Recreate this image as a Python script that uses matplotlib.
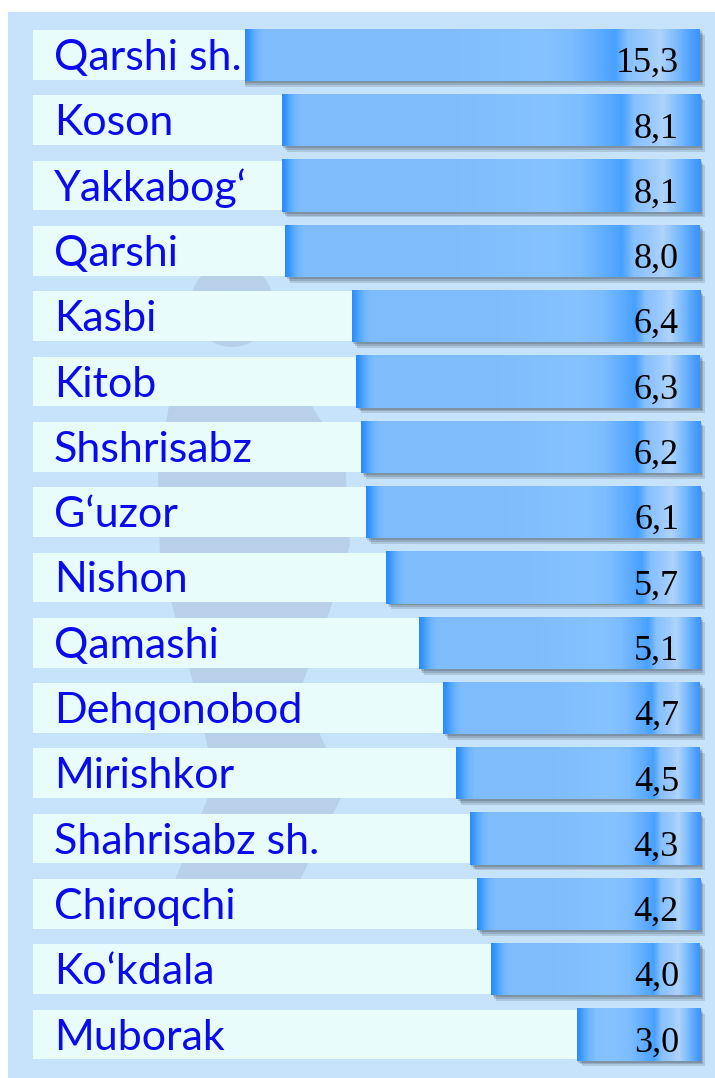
import numpy as np
import matplotlib
matplotlib.use("Agg")
import matplotlib.pyplot as plt
from matplotlib.patches import Rectangle, Circle, Polygon
from matplotlib import patheffects as pe
from matplotlib.colors import to_rgb

# ---------------- data ----------------
districts = ["Qarshi sh.", "Koson", "Yakkabog‘", "Qarshi", "Kasbi", "Kitob",
             "Shshrisabz", "G‘uzor", "Nishon", "Qamashi", "Dehqonobod",
             "Mirishkor", "Shahrisabz sh.", "Chiroqchi", "Ko‘kdala", "Muborak"]
values = [15.3, 8.1, 8.1, 8.0, 6.4, 6.3, 6.2, 6.1, 5.7, 5.1, 4.7, 4.5, 4.3, 4.2, 4.0, 3.0]
value_labels = [f"{v:.1f}".replace(".", ",") for v in values]

# ---------------- layout ----------------
W, H, DPI = 715, 1078, 100
ROW0, PITCH = 55.0, 65.3
n = len(values)
rows = np.arange(n)
ylim = ((H - ROW0) / PITCH, (0 - ROW0) / PITCH)

BAR_L, BAR_R, AX_R = 245, 700, 715
BASE = 1.98
PX_PER_LN = 297.0

fig = plt.figure(figsize=(W / DPI, H / DPI), dpi=DPI)
fig.patch.set_facecolor("white")

# background panel + faint watermark
ax_bg = fig.add_axes([0, 0, 1, 1], zorder=0)
ax_bg.set_xlim(0, W)
ax_bg.set_ylim(H, 0)
ax_bg.axis("off")
ax_bg.add_patch(Rectangle((8, 12), W - 8, H - 12, facecolor="#c7e3fb", edgecolor="none"))
wm = "#b8d0ea"
ax_bg.add_patch(Circle((232, 305), 42, facecolor=wm, edgecolor="none"))
ax_bg.add_patch(Polygon([(175, 370), (290, 370), (345, 460), (350, 545), (330, 610),
                         (300, 690), (345, 790), (300, 880), (175, 880), (215, 780),
                         (195, 690), (160, 560), (158, 470)],
                        closed=True, facecolor=wm, edgecolor="none"))

# label boxes and labels
ax_rows = fig.add_axes([0, 0, 1, 1], zorder=1)
ax_rows.set_xlim(0, W)
ax_rows.set_ylim(*ylim)
ax_rows.axis("off")
ax_rows.barh(rows, width=690 - 33, left=33, height=0.76, color="#e8fcfc", edgecolor="none")
for i, name in enumerate(districts):
    ax_rows.text(54, i + 0.23, name, ha="left", va="baseline", fontsize=31,
                 color="#0a0aee", family=["Lato", "DejaVu Sans"])

# bars (log scale, inverted, anchored at right)
x_left = BASE * np.exp((BAR_R - BAR_L) / PX_PER_LN)
x_right = BASE * np.exp(-(AX_R - BAR_R) / PX_PER_LN)
rect = [BAR_L / W, 0, (AX_R - BAR_L) / W, 1]
ax = fig.add_axes(rect, zorder=2)
ax.set_xscale("log")
ax.set_autoscale_on(False)
ax.set_xlim(x_left, x_right)
ax.set_ylim(*ylim)
ax.axis("off")
shadow = [pe.SimplePatchShadow(offset=(o, -o * 1.15), shadow_rgbFace="#3c4a58", alpha=a)
          for o, a in ((1.2, 0.25), (2.4, 0.22), (3.6, 0.18))] + [pe.Normal()]
bars = ax.barh(rows, width=np.array(values) - BASE, left=BASE, height=0.8,
               color="#80bdfd", edgecolor="none")
for b in bars:
    b.set_path_effects(shadow)

# gradient overlay
right_stops = [(0, "#3a93fb"), (8, "#4c9ffe"), (22, "#78b9fd"), (40, "#aed4fa"),
               (52, "#9ccafd"), (72, "#86c0ff"), (79, "#62adff"), (85, "#48a1ff"),
               (100, "#5cabff"), (128, "#7cbcff"), (160, "#85c2ff"), (260, "#80bdfd"),
               (2000, "#7dbbfc")]
left_stops = [(0, "#2a8af5"), (4, "#3896fe"), (8, "#55a8ff"), (13, "#70b6ff"), (18, "#7cbcfd")]


def interp_colors(stops, d):
    ds = np.array([s[0] for s in stops], float)
    cs = np.array([to_rgb(s[1]) for s in stops])
    return np.stack([np.interp(d, ds, cs[:, c]) for c in range(3)], axis=-1)


ax_img = fig.add_axes(rect, zorder=3)
ax_img.axis("off")
ncol = AX_R - BAR_L
px = BAR_L + np.arange(ncol) + 0.5
for k, b in enumerate(bars):
    Lk = ax.transData.transform((values[k], k))[0]
    Lk = max(Lk, BAR_L)
    width_k = BAR_R - Lk
    scale = np.clip(width_k / 450.0, 0.55, 1.0)
    d = np.clip(BAR_R - px, 0, None) / scale
    cols = interp_colors(right_stops, d)
    dl = px - Lk
    mask = (dl >= 0) & (dl < 18)
    cols[mask] = interp_colors(left_stops, dl[mask])
    im = ax_img.imshow(cols[None, :, :], extent=(0, 1, ylim[0], ylim[1]), aspect="auto",
                       interpolation="nearest", zorder=1)
    im.set_clip_path(b)
ax_img.set_xlim(0, 1)
ax_img.set_ylim(*ylim)

xv = (679 - BAR_L) / (AX_R - BAR_L)
for k, lab in enumerate(value_labels):
    ax_img.text(xv, k + 17 / PITCH, lab, ha="right", va="baseline", fontsize=26,
                family="Liberation Serif", color="black", zorder=5)

fig.savefig("out.png", dpi=DPI, facecolor=fig.get_facecolor())
